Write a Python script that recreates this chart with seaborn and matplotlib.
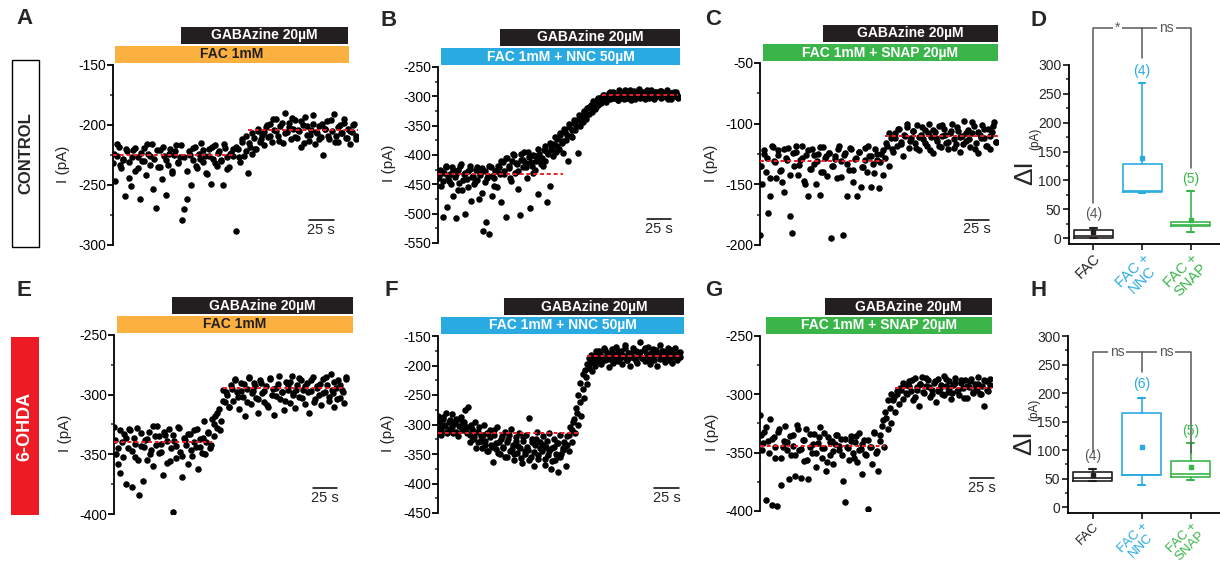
import numpy as np
import matplotlib
matplotlib.use('Agg')
import matplotlib.pyplot as plt
import seaborn as sns
from matplotlib.patches import Rectangle
from matplotlib.ticker import MultipleLocator
from matplotlib.transforms import blended_transform_factory

# ---------------- data ----------------
# Each trace is given as two interleaved sweeps of samples (current in pA),
# spread evenly over the recording time.

# A: CONTROL, FAC 1mM
a_end = 248
a_current = [
    -232, -247, -226, -218, -236, -229, -259, -222, -231, -251,
    -221, -238, -227, -262, -230, -219, -242, -224, -233, -216,
    -228, -269, -235, -221, -245, -226, -258, -233, -220, -240,
    -225, -217, -232, -227, -279, -270, -238, -222, -250, -229,
    -218, -236, -224, -215, -231, -226, -241, -220, -249, -228,
    -217, -234, -222, -230, -250, -219, -227, -235, -223, -226,
    -288, -220, -231, -214, -226, -209, -240, -218, -224, -211,
    -220, -205, -214, -208, -217, -202,
    -210, -199, -214, -204, -195, -209, -201, -215, -190, -206,
    -198, -212, -203, -196, -211, -205, -218, -200, -193, -208,
    -213, -204, -199, -216, -207, -201, -210, -225, -203, -197,
    -212, -205, -191, -209, -214, -200, -207, -195, -211, -203,
    -216, -206, -199, -212]
a_current2 = [
    -224, -216, -233, -228, -220, -244, -227, -219, -236, -223,
    -230, -216, -226, -253, -221, -235, -218, -229, -224, -238,
    -222, -231, -217, -227, -262, -225, -219, -234, -228, -221,
    -240, -226, -218, -232, -223, -229, -216, -237, -224, -220,
    -218, -227, -212, -222, -215, -207, -220, -203, -212, -206,
    -200, -209, -195, -205, -213, -198, -207, -202, -194, -210,
    -204, -197, -215, -201, -208, -192, -206, -212, -199, -203,
    -209, -196, -214, -202, -207, -198, -211, -205, -200, -209]
a_base = [-225, -204]
a_base_t = [(0, 122), (138, 250)]
a_drug_t = [2, 241]
a_gaba_t = [69, 240]

# B: CONTROL, FAC + NNC
b_end = 248
b_current = [
    -440, -425, -452, -505, -430, -418, -488, -445, -433, -420,
    -470, -438, -508, -426, -447, -415, -460, -432, -500, -441,
    -428, -419, -478, -436, -450, -425, -443, -475, -430, -422,
    -530, -446, -515, -435, -535, -420, -470, -440, -428, -455,
    -418, -432, -480, -412, -427, -505, -405, -423, -440, -410,
    -398, -430, -416, -458, -503, -408, -421, -395, -414, -440,
    -404, -490, -418, -400, -426, -411, -467, -398, -415, -405, -392,
    -410, -480, -398, -452, -388, -402, -381, -395, -372, -390,
    -366, -380, -397, -361, -375, -410, -352, -368, -369, -345,
    -358, -340, -397, -350, -333, -344, -327, -338, -320, -330,
    -318, -326, -312, -321, -307, -315, -303, -312, -306, -298,
    -309, -301, -295, -305, -299, -292, -303, -297, -306, -290,
    -300, -294, -304, -289, -298, -302, -293, -307, -296, -291,
    -301, -295, -288, -303, -297, -292, -305, -299, -294, -302,
    -290, -298, -304, -293, -300, -296, -291, -303, -297, -294,
    -301, -289, -299, -305, -295, -292, -300, -297, -303]
b_current2 = [
    -435, -428, -445, -420, -438, -450, -425, -433, -460, -418,
    -442, -430, -455, -424, -437, -446, -421, -434, -465, -428,
    -440, -419, -436, -452, -426,
    -420, -410, -432, -405, -418, -445, -400, -413, -428, -398,
    -408, -420, -395, -412, -430, -402, -390, -406, -418, -385,
    -395, -380, -392, -370, -385, -362, -376, -355, -366, -348,
    -358, -340, -350, -332, -342, -325, -334, -318,
    -315, -308, -318, -302, -310, -297, -305, -300, -293, -303,
    -298, -306, -292, -300, -295, -303, -290, -298, -304, -296,
    -292, -301, -297, -289, -300, -295, -303, -293, -298, -291,
    -300, -296, -304, -294, -299, -292, -301]
b_base = [-432, -298]
b_base_t = [(0, 129), (169, 248)]
b_drug_t = [3, 250]
b_gaba_t = [64, 250]

# C: CONTROL, FAC + SNAP
c_end = 243
c_current = [
    -192, -150, -125, -140, -174, -160, -118, -131, -145, -122,
    -139, -148, -156, -128, -120, -176, -190, -135, -123, -142,
    -130, -118, -147, -126, -160, -137, -121, -133, -150, -125,
    -159, -140, -119, -128, -143, -124, -194, -135, -127, -145,
    -118, -131, -192, -124, -160, -138, -121, -148, -129, -160,
    -123, -152, -136, -120, -140, -127, -152, -133, -121, -130,
    -153, -125, -142,
    -128, -118, -135, -112, -123, -108, -118, -104, -115, -127,
    -110, -103, -120, -112, -106, -116, -101, -122, -109, -113,
    -105, -118, -100, -111, -124, -107, -114, -102, -119, -110,
    -104, -116, -121, -108, -100, -113, -117, -106, -123, -110,
    -98, -114, -105, -119, -108, -102, -116, -124, -109, -101,
    -112, -118, -104, -121, -107, -99, -115]
c_current2 = [
    -135, -122, -128, -145, -119, -132, -126, -138, -121, -130,
    -142, -124, -118, -134, -128, -150, -122, -137, -126, -131,
    -119, -140, -127, -124, -135, -129, -121, -144, -126, -133,
    -120, -138, -128, -123, -136, -130, -118, -127, -141, -125,
    -132, -122,
    -116, -108, -121, -112, -104, -117, -109, -100, -114, -106,
    -120, -111, -103, -116, -108, -122, -105, -112, -118, -101,
    -109, -115, -106, -120, -103, -111, -117, -108, -113, -99,
    -121, -107, -112, -104, -118, -110, -102, -115]
c_base = [-131, -110]
c_base_t = [(0, 129), (129, 245)]
c_drug_t = [3, 245]
c_gaba_t = [65, 245]

# E: 6-OHDA, FAC 1mM
e_end = 238
e_current = [
    -327, -350, -358, -366, -340, -333, -375, -345, -330, -377,
    -336, -352, -328, -384, -343, -372, -338, -355, -331, -346,
    -360, -335, -326, -349, -341, -367, -334, -357, -329, -345,
    -398, -339, -353, -327, -348, -369, -336, -342, -358, -333,
    -351, -330, -344, -362, -337, -349, -322, -340, -332, -345,
    -320, -335, -318, -328, -312, -322, -296, -306, -300, -310,
    -292, -305, -287, -298, -312, -290, -302, -318, -295, -285,
    -308, -297, -290, -303, -315, -288, -299, -306, -293, -310,
    -286, -300, -317, -294, -291, -304, -298, -313, -289, -296,
    -307, -284, -299, -311, -292, -302, -288, -296, -308, -290,
    -315, -297, -285, -304, -293, -300, -309, -287, -298, -292,
    -305, -283, -299, -310, -294, -288, -303, -296, -307, -285]
e_current2 = [
    -338, -345, -330, -352, -336, -329, -347, -341, -355, -332,
    -344, -337, -350, -326, -342, -335, -348, -331, -339, -356,
    -334, -343, -328, -351, -338, -333, -346, -340, -329, -344,
    -336, -350, -331, -342,
    -325, -315, -330, -305, -298, -310,
    -295, -288, -302, -297, -291, -306, -286, -299, -293, -304,
    -290, -297, -309, -287, -295, -301, -284, -298, -305, -292,
    -289, -300, -296, -286, -303, -293, -298, -288, -306, -294,
    -291, -299, -285, -302, -296, -289, -304, -292, -298, -287]
e_base = [-340, -294]
e_base_t = [(0, 100), (112, 237)]
e_drug_t = [3, 245]
e_gaba_t = [59, 245]

# F: 6-OHDA, FAC + NNC
f_end = 246
f_current = [
    -285, -305, -318, -290, -300, -280, -312, -295, -308, -283,
    -315, -298, -290, -320, -302, -287, -310, -296, -275, -305,
    -270, -318, -300, -325, -295, -312, -330, -305, -320, -340,
    -300, -328, -315, -345, -310, -335, -363, -318, -342, -305,
    -330, -350, -320, -338, -312, -355, -325, -345, -308, -335,
    -360, -322, -348, -315, -340, -365, -328, -350, -318, -343,
    -289, -355, -325, -370, -335, -312, -358, -330, -345, -320,
    -368, -338, -352, -315, -375, -340, -325, -360, -332, -380,
    -318, -350, -340, -330, -370,
    -320, -345, -305, -330, -295, -315, -280, -300, -262, -285,
    -240, -255, -220, -232, -205,
    -195, -210, -188, -200, -180, -193, -175, -198, -185, -170,
    -190, -178, -202, -183, -172, -195, -186, -168, -192, -180,
    -175, -197, -185, -165, -190, -178, -200, -182, -170, -188,
    -176, -195, -183, -160, -187, -174, -192, -180, -168, -197,
    -185, -172, -190, -178, -200, -183, -166, -188, -175, -194,
    -181, -170, -189, -177, -196, -184, -171, -190, -179, -186]
f_current2 = [
    -295, -310, -288, -302, -315, -292, -305, -298, -312, -290,
    -303, -296, -308,
    -315, -330, -308, -322, -340, -312, -328, -318, -335, -345,
    -322, -338, -310, -332, -348, -325, -340, -355, -330, -318,
    -342, -350, -328, -336, -356, -322, -345, -338, -360, -330,
    -347, -325, -352, -340, -335, -358, -328, -345, -362, -338,
    -350, -332, -355, -343, -337,
    -335, -318, -310, -290, -272, -250, -230, -215, -208, -198,
    -188, -182, -194, -176, -186, -180, -191, -173, -184, -189,
    -178, -193, -181, -175, -188, -183, -170, -190, -179, -185,
    -174, -192, -182, -177, -187, -171, -183, -190, -178, -186,
    -173, -181, -189, -176, -184, -179, -191, -174, -185, -180,
    -188, -177]
f_base = [-314, -184]
f_base_t = [(0, 144), (151, 248)]
f_drug_t = [3, 250]
f_gaba_t = [67, 250]

# G: 6-OHDA, FAC + SNAP
g_end = 238
g_current = [
    -318, -348, -332, -391, -340, -321, -395, -337, -355, -396,
    -330, -378, -345, -327, -341, -373, -352, -335, -370, -326,
    -348, -372, -339, -357, -330, -373, -345, -350, -334, -362,
    -342, -328, -355, -346, -366, -337, -352, -340, -360, -343,
    -335, -348, -338, -374, -392, -345, -356, -336, -350, -341,
    -358, -333, -347, -368, -339, -352, -398, -345, -360, -332,
    -350, -366,
    -340, -327, -345, -320, -330, -312, -325, -305, -315, -300,
    -308, -296, -304,
    -292, -300, -289, -297, -305, -286, -294, -310, -291, -285,
    -299, -293, -288, -302, -296, -290, -307, -287, -295, -300,
    -284, -293, -298, -289, -304, -292, -286, -297, -301, -290,
    -295, -288, -303, -294, -287, -299, -291, -296, -285, -300,
    -293, -310, -289, -297, -287]
g_current2 = [
    -335, -342, -328, -350, -338, -345, -332, -355, -340, -348,
    -336, -344, -352, -330, -347, -339, -356, -334, -343, -350,
    -337, -346, -333, -358, -341, -349, -335, -344, -352, -338,
    -346, -340, -355, -336, -348, -343, -351, -339, -345, -333, -349,
    -335, -322, -315, -305, -300, -302, -297,
    -295, -290, -299, -293, -288, -302, -296, -291, -298, -286,
    -294, -300, -289, -297, -292, -301, -287, -295, -299, -290,
    -296, -288, -303, -293, -289, -298, -294, -291, -300, -288,
    -296, -292]
g_base = [-344, -295]
g_base_t = [(0, 129), (140, 240)]
g_drug_t = [6, 240]
g_gaba_t = [67, 240]

# D / H: summary box plots (FAC, FAC+NNC, FAC+SNAP)
groups = ['FAC', 'FAC +\nNNC', 'FAC +\nSNAP']
d_q1 = [0, 80, 20]
d_med = [3, 82, 23]
d_q3 = [14, 128, 27]
d_lo = [0, 78, 10]
d_hi = [18, 268, 82]
d_mean = [10, 138, 32]
d_n = [4, 4, 5]
d_sig = ['*', 'ns']

h_q1 = [46, 56, 53]
h_med = [51, 57, 58]
h_q3 = [62, 165, 81]
h_lo = [45, 39, 48]
h_hi = [67, 192, 113]
h_mean = [57, 106, 71]
h_n = [4, 6, 5]
h_sig = ['ns', 'ns']

# ---------------- style ----------------
sns.set_style('ticks')
plt.rcParams['font.family'] = ['Liberation Sans', 'DejaVu Sans']
plt.rcParams['axes.linewidth'] = 1.3
plt.rcParams['axes.unicode_minus'] = False

DARK = '#231F20'
ORANGE = '#FBB040'
BLUE = '#29ABE2'
GREEN = '#39B54A'
RED = '#ED1C24'
GREY = '#58595B'
group_colors = [DARK, BLUE, GREEN]

W, H = 1220, 566
fig = plt.figure(figsize=(W / 100, H / 100), dpi=100)


def add_ax(l, t, r, b):
    return fig.add_axes([l / W, 1 - b / H, (r - l) / W, (b - t) / H])


def trace_panel(box, t_end, sweeps, ylim, xmax, base, base_t,
                drug, drug_t, gaba_t, drug_color, drug_txt, scale_x, scale_y):
    ax = add_ax(*box)
    for k, current in enumerate(sweeps):
        t = np.linspace(0.6 * k, t_end, len(current))
        sns.scatterplot(x=t, y=current, ax=ax, color='black', s=22,
                        linewidth=0, legend=False, zorder=2)
    for lvl, (t0, t1) in zip(base, base_t):
        ax.plot([t0, t1], [lvl, lvl], color=RED, ls=(0, (2, 1.5)),
                lw=1.4, zorder=3)
    ax.set_xlim(0, xmax)
    ax.set_ylim(*ylim)
    ax.set_yticks(np.arange(ylim[0], ylim[1] + 1, 50))
    ax.yaxis.set_minor_locator(MultipleLocator(25))
    ax.set_xticks([])
    for s in ['top', 'right', 'bottom']:
        ax.spines[s].set_visible(False)
    ax.spines['left'].set_color('black')
    ax.tick_params(axis='y', which='major', length=4, width=1.3,
                   labelsize=10, pad=1, colors='black')
    ax.tick_params(axis='y', which='minor', length=2.5, width=1.1,
                   left=True)
    ax.set_ylabel('I (pA)', fontsize=11, labelpad=2)
    ax.yaxis.set_label_coords(-0.175, 0.45)

    # drug application bars above the trace
    h_px = box[3] - box[1]
    trans = blended_transform_factory(ax.transData, ax.transAxes)
    hb = 17 / h_px
    y_drug = 1 + 2 / h_px
    y_gaba = 1 + 21 / h_px
    ax.add_patch(Rectangle((drug_t[0], y_drug), drug_t[1] - drug_t[0], hb,
                           transform=trans, color=drug_color, lw=0,
                           clip_on=False))
    ax.text((drug_t[0] + drug_t[1]) / 2, y_drug + hb / 2, drug,
            transform=trans, ha='center', va='center', color=drug_txt,
            fontweight='bold', fontsize=10)
    ax.add_patch(Rectangle((gaba_t[0], y_gaba), gaba_t[1] - gaba_t[0], hb,
                           transform=trans, color=DARK, lw=0, clip_on=False))
    ax.text((gaba_t[0] + gaba_t[1]) / 2, y_gaba + hb / 2, 'GABAzine 20µM',
            transform=trans, ha='center', va='center', color='white',
            fontweight='bold', fontsize=10)

    # 25 s scale bar
    ax.plot([scale_x, scale_x + 25], [scale_y, scale_y], color='black',
            lw=1.1, clip_on=False)
    ax.annotate('25 s', xy=(scale_x + 12.5, scale_y), xytext=(0, -2),
                textcoords='offset points', ha='center', va='top',
                fontsize=10.5)
    return ax


def box_panel(box, q1, med, q3, lo, hi, mean, n, sig, n_y, sig_top, legs,
              label_size):
    ax = add_ax(*box)
    for i in range(3):
        stats = [dict(q1=q1[i], med=med[i], q3=q3[i], whislo=lo[i],
                      whishi=hi[i], mean=mean[i], fliers=[])]
        c = group_colors[i]
        ax.bxp(stats, positions=[i], widths=0.8, showmeans=True,
               capwidths=0.14,
               boxprops=dict(color=c, lw=1.2),
               medianprops=dict(color=c, lw=1.2),
               whiskerprops=dict(color=c, lw=1.2),
               capprops=dict(color=c, lw=1.5),
               meanprops=dict(marker='s', markersize=3, markerfacecolor=c,
                              markeredgecolor=c))
        ax.text(i, n_y[i], f'({n[i]})', ha='center', va='bottom',
                color=GREY if i == 0 else c, fontsize=10)
    # significance brackets
    ax.plot([0, 0, 2, 2], [legs[0], sig_top, sig_top, legs[2]], color=GREY,
            lw=1.1, clip_on=False)
    ax.plot([1, 1], [sig_top, legs[1]], color=GREY, lw=1.1, clip_on=False)
    for xi, s in zip([0.5, 1.5], sig):
        ax.text(xi, sig_top, s, ha='center', va='center', color=GREY,
                fontsize=10, bbox=dict(fc='white', ec='none', pad=1.5))
    ax.set_xlim(-0.5, 2.6)
    ax.set_ylim(-10.4, 300)
    ax.set_yticks(np.arange(0, 301, 50))
    ax.yaxis.set_minor_locator(MultipleLocator(25))
    ax.set_xticks([0, 1, 2])
    ax.set_xticklabels(groups, rotation=45, ha='right', va='top',
                       rotation_mode='anchor', fontsize=label_size,
                       multialignment='center', linespacing=1.0)
    for lab, c in zip(ax.get_xticklabels(), group_colors):
        lab.set_color(c)
    for s in ['top', 'right']:
        ax.spines[s].set_visible(False)
    ax.spines['left'].set_color('black')
    ax.spines['bottom'].set_color('black')
    ax.tick_params(axis='both', which='major', length=4, width=1.3,
                   labelsize=10, pad=1.5)
    ax.tick_params(axis='x', pad=1, labelsize=label_size)
    ax.tick_params(axis='y', which='minor', length=2.5, width=1.1, left=True)
    ax.text(-0.29, 0.40, 'ΔI', transform=ax.transAxes, rotation=90,
            ha='center', va='center', fontsize=19)
    ax.text(-0.225, 0.585, '(pA)', transform=ax.transAxes, rotation=90,
            ha='center', va='center', fontsize=8.5)
    return ax


# top row: CONTROL
trace_panel((113, 65, 358, 245), a_end, [a_current, a_current2],
            (-300, -150), 250, a_base, a_base_t, 'FAC 1mM', a_drug_t,
            a_gaba_t, ORANGE, DARK, 200, -279)
trace_panel((438, 67, 680, 243), b_end, [b_current, b_current2],
            (-550, -250), 250, b_base, b_base_t, 'FAC 1mM + NNC 50µM',
            b_drug_t, b_gaba_t, BLUE, 'white', 216, -509)
trace_panel((760, 63, 998, 245), c_end, [c_current, c_current2],
            (-200, -50), 245, c_base, c_base_t, 'FAC 1mM + SNAP 20µM',
            c_drug_t, c_gaba_t, GREEN, 'white', 211, -179)
box_panel((1069, 65, 1220, 244), d_q1, d_med, d_q3, d_lo, d_hi, d_mean,
          d_n, d_sig, [30, 278, 90], 364, [61, 312, 121], 10.5)

# bottom row: 6-OHDA
trace_panel((114, 335, 353, 514), e_end, [e_current, e_current2],
            (-400, -250), 245, e_base, e_base_t, 'FAC 1mM', e_drug_t,
            e_gaba_t, ORANGE, DARK, 204, -378)
trace_panel((438, 336, 684, 513), f_end, [f_current, f_current2],
            (-450, -150), 250, f_base, f_base_t, 'FAC 1mM + NNC 50µM',
            f_drug_t, f_gaba_t, BLUE, 'white', 220, -408)
trace_panel((760, 336, 992, 511), g_end, [g_current, g_current2],
            (-400, -250), 240, g_base, g_base_t, 'FAC 1mM + SNAP 20µM',
            g_drug_t, g_gaba_t, GREEN, 'white', 217, -372)
box_panel((1068, 336, 1220, 513), h_q1, h_med, h_q3, h_lo, h_hi, h_mean,
          h_n, h_sig, [78, 203, 122], 272, [97, 236, 94], 9.5)

# row labels
fig.add_artist(Rectangle((12 / W, 1 - 247 / H), 27 / W, 187 / H,
                         transform=fig.transFigure, fill=False, ec='black',
                         lw=1.0))
fig.text(25.5 / W, 1 - 153 / H, 'CONTROL', rotation=90, ha='center',
         va='center', fontweight='bold', fontsize=12)
fig.add_artist(Rectangle((11 / W, 1 - 515 / H), 28 / W, 178 / H,
                         transform=fig.transFigure, color=RED, lw=0))
fig.text(25 / W, 1 - 426 / H, '6-OHDA', rotation=90, ha='center',
         va='center', fontweight='bold', fontsize=13, color='white')

# panel letters
for letter, (x, y) in {'A': (16, 8), 'B': (381, 10), 'C': (705, 9),
                       'D': (1031, 10), 'E': (16, 280), 'F': (385, 280),
                       'G': (705, 280), 'H': (1031, 280)}.items():
    fig.text(x / W, 1 - y / H, letter, ha='left', va='top',
             fontweight='bold', fontsize=16)

fig.savefig('out.png', dpi=100)
